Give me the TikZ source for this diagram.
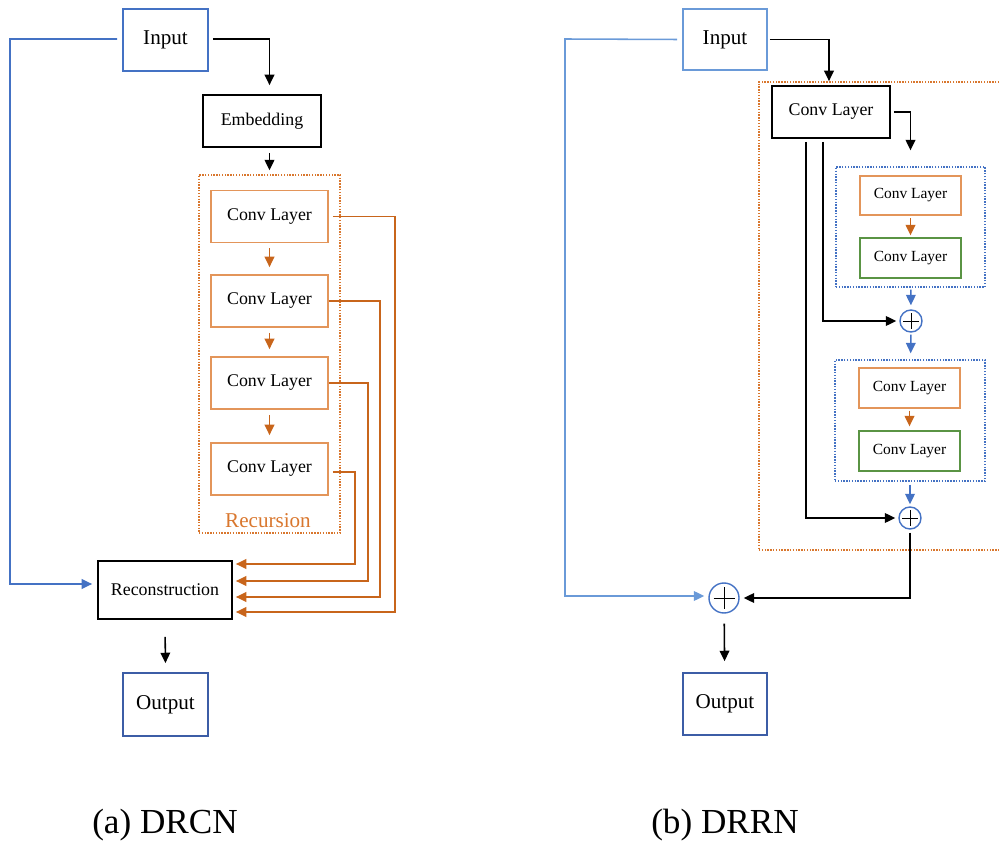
\documentclass[tikz,border=0pt]{standalone}
\usepackage{fontspec}
\setmainfont{Liberation Serif}
\usetikzlibrary{positioning,arrows.meta,calc}
\definecolor{inblue}{HTML}{4472C4}
\definecolor{inblueR}{HTML}{6A9AD8}
\definecolor{outblue}{HTML}{3C5DA6}
\definecolor{recorange}{HTML}{C8651B}
\definecolor{convorange}{HTML}{E3955A}
\definecolor{dotorange}{HTML}{D9772E}
\definecolor{convgreen}{HTML}{5A9444}
\definecolor{grpblue}{HTML}{4472C4}

\begin{document}
\begin{tikzpicture}[x=0.025cm, y=-0.025cm,
  font=\fontsize{12.7}{15}\selectfont,
  box/.style={draw, line width=1.2pt, inner sep=0pt, align=center},
  io/.style={box, draw=inblue, minimum width=2.125cm, minimum height=1.55cm,
             font=\fontsize{15}{18}\selectfont},
  blk/.style={box, draw=black, minimum width=2.95cm, minimum height=1.3cm},
  conv/.style={box, draw=convorange, minimum width=2.925cm, minimum height=1.3cm},
  convs/.style={box, draw=convorange, minimum width=2.525cm, minimum height=0.99cm,
                font=\fontsize{11}{13}\selectfont},
  convg/.style={convs, draw=convgreen},
  grp/.style={draw=grpblue, line width=0.9pt, dash pattern=on 1pt off 1pt, inner sep=0pt},
  ogrp/.style={grp, draw=dotorange},
  plus/.style={circle, draw=inblue, line width=1pt, minimum size=0.55cm, inner sep=0pt,
    path picture={\draw[black, line width=0.6pt]
      ($(path picture bounding box.north)!0.15!(path picture bounding box.south)$) --
      ($(path picture bounding box.north)!0.85!(path picture bounding box.south)$)
      ($(path picture bounding box.west)!0.15!(path picture bounding box.east)$) --
      ($(path picture bounding box.west)!0.85!(path picture bounding box.east)$);}},
  arr/.style={-{Triangle[length=2.6mm, width=2.4mm]}, line width=1.1pt, black},
  oarr/.style={arr, recorange},
  barr/.style={arr, inblue},
  lab/.style={font=\fontsize{25}{29}\selectfont, inner sep=0pt}
]
\useasboundingbox (0,0) rectangle (1000,845);
% ----- (a) DRCN -----
\node[ogrp, minimum width=3.525cm, minimum height=8.95cm] (recur) at (269.5,354) {};
\node[io]                  (inL)   at (165.5,40)  {Input};
\node[blk]                 (emb)   at (262,121)   {Embedding};
\node[conv]                (c1)    at (269.5,216.5) {Conv Layer};
\node[conv]                (c2)    at (269.5,301) {Conv Layer};
\node[conv]                (c3)    at (269.5,383) {Conv Layer};
\node[conv]                (c4)    at (269.5,469) {Conv Layer};
\node[inner sep=0pt, text=dotorange, font=\fontsize{15}{18}\selectfont] (rlab) at (268,521) {Recursion};
\node[blk, minimum width=3.35cm, minimum height=1.45cm] (recon) at (165,590) {Reconstruction};
\node[io, draw=outblue, minimum height=1.575cm] (outL) at (165.5,704.5) {Output};
\node[lab] (capL) at (165,825) {(a) DRCN};
\coordinate (lbend) at (10,39);
\draw[arr] ([xshift=1mm,yshift=0.25mm]inL.east) -| ([yshift=2.25mm]recur.north |- emb.north);
\draw[arr] ([yshift=-1.25mm]recur.north |- emb.south) -- ([yshift=1mm]recur.north);
\foreach \a/\b in {c1/c2, c2/c3, c3/c4}{\draw[oarr, shorten <=1.25mm, shorten >=1.75mm] (\a) -- (\b);}
\draw[oarr] ([xshift=1mm]c1.east) -- ++(15.5mm,0) |- ([xshift=0.75mm,yshift=-5.5mm]recon.east);
\draw[oarr] ([xshift=0mm]c2.east) -- ++(12.75mm,0) |- ([xshift=0.75mm,yshift=-1.75mm]recon.east);
\draw[oarr] ([xshift=0mm]c3.east) -- ++(9.75mm,0) |- ([xshift=0.75mm,yshift=2.25mm]recon.east);
\draw[oarr] ([xshift=1mm,yshift=-0.75mm]c4.east) -- ++(5.5mm,0) |- ([xshift=0.75mm,yshift=6.5mm]recon.east);
\draw[barr] ([xshift=-1.25mm,yshift=0.25mm]inL.west) -- (lbend) |- ([xshift=-1.25mm,yshift=1.5mm]recon.west);
\draw[arr, shorten <=4.25mm, shorten >=2.25mm] (recon.south) -- (outL.north);
% ----- (b) DRRN -----
\node[ogrp, minimum width=6.15cm, minimum height=11.7cm] (resblk) at (882,316) {};
\node[io, draw=inblueR, minimum width=2.1cm, minimum height=1.525cm] (inR) at (725,39.5) {Input};
\node[blk]                 (convR) at (831,112)   {Conv Layer};
\node[grp, minimum width=3.725cm, minimum height=3cm]     (blk1) at (910.5,227) {};
\node[convs]               (o1)    at (910.5,195.5) {Conv Layer};
\node[convg]               (g1)    at (910.5,258) {Conv Layer};
\node[plus]                (p1)    at (911,321)   {};
\node[grp, minimum width=3.75cm, minimum height=3.025cm]  (blk2) at (910,420.5) {};
\node[convs]               (o2)    at (909.5,388) {Conv Layer};
\node[convg]               (g2)    at (909.5,451) {Conv Layer};
\node[plus]                (p2)    at (910,518)   {};
\node[plus, minimum size=0.75cm] (pm) at (724,598) {};
\node[io, draw=outblue, minimum width=2.1cm] (outR) at (725,704) {Output};
\node[lab] (capR) at (725,825) {(b) DRRN};
\coordinate (rbend) at (565,39);
\draw[arr] ([xshift=0.5mm]inR.east) -| ([xshift=-0.5mm,yshift=1mm]convR.north);
\draw[arr] ([xshift=0.75mm]convR.east) -| ([yshift=4mm]blk1.north);
\draw[oarr, shorten <=0.5mm, shorten >=0.5mm] (o1) -- (g1);
\draw[barr, shorten <=0.5mm, shorten >=1mm] (blk1) -- (p1);
\draw[barr, shorten <=0.5mm, shorten >=1.5mm] (p1) -- (blk2);
\draw[oarr, shorten <=0.5mm, shorten >=1mm] (o2) -- (g2);
\draw[barr, shorten <=0.75mm, shorten >=0.5mm] (blk2) -- (p2);
\draw[arr] ([xshift=-2mm,yshift=-0.75mm]convR.south) |- ([xshift=-0.75mm]p1.west);
\draw[arr] ([xshift=-6.25mm,yshift=-0.75mm]convR.south) |- ([xshift=-0.75mm]p2.west);
\draw[arr] ([yshift=-0.75mm]p2.south) |- ([xshift=1mm]pm.east);
\draw[barr, inblueR] ([xshift=-1.25mm]inR.west) -- (rbend) |- ([xshift=-1mm,yshift=0.5mm]pm.west);
\draw[arr, shorten <=2.5mm, shorten >=2.75mm] (pm) -- (outR);
\end{tikzpicture}
\end{document}
